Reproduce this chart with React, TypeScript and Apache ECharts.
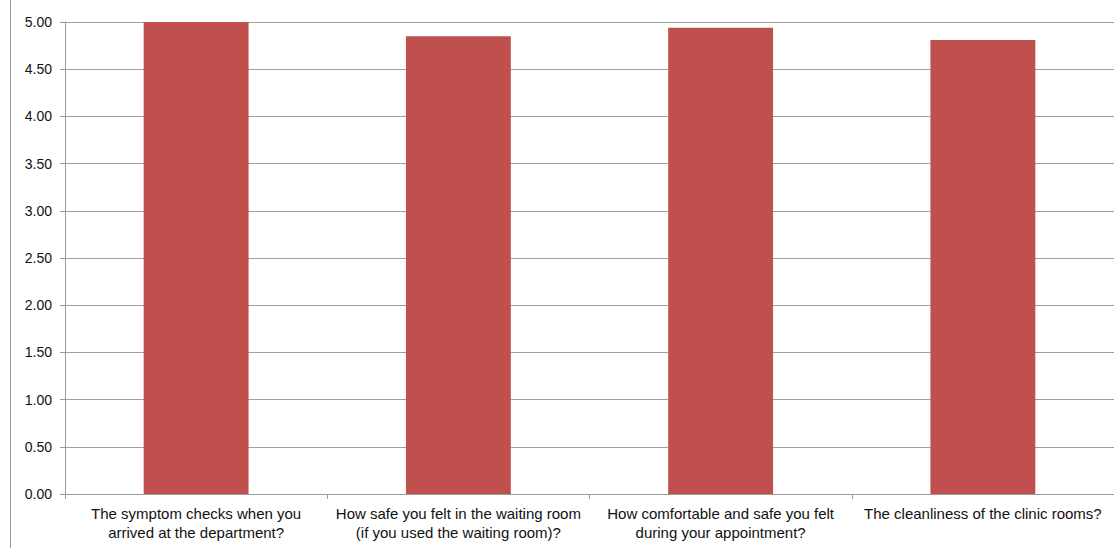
import React, { useEffect, useRef } from "react";
import * as echarts from "echarts";

const categories = [
  "The symptom checks when you\narrived at the department?",
  "How safe you felt in the waiting room\n(if you used the waiting room)?",
  "How comfortable and safe you felt\nduring your appointment?",
  "The cleanliness of the clinic rooms?",
];
const scores = [5.0, 4.85, 4.94, 4.81];
const yTicks = { min: 0, max: 5, interval: 0.5 };

export default function App() {
  const ref = useRef<HTMLDivElement>(null);
  useEffect(() => {
    document.body.style.margin = "0";
    const chart = echarts.init(ref.current!, null, { renderer: "svg" });
    chart.setOption({
      animation: false,
      backgroundColor: "#ffffff",
      textStyle: { fontFamily: "'Liberation Sans', Arial, sans-serif" },
      graphic: [
        {
          type: "line",
          shape: { x1: 10.5, y1: 0, x2: 10.5, y2: 548 },
          style: { stroke: "#9a9a9a", lineWidth: 1 },
        },
      ],
      grid: { left: 65, top: 22, width: 1052, height: 472, containLabel: false },
      xAxis: {
        type: "category",
        data: categories,
        axisLine: { show: true, lineStyle: { color: "#9a9a9a", width: 1 } },
        axisTick: { show: true, length: 5, alignWithLabel: false, lineStyle: { color: "#9a9a9a" } },
        axisLabel: {
          interval: 0,
          color: "#111111",
          fontSize: 15,
          lineHeight: 19,
          margin: 10,
          fontFamily: "'Liberation Sans', Arial, sans-serif",
        },
      },
      yAxis: {
        type: "value",
        min: yTicks.min,
        max: yTicks.max,
        interval: yTicks.interval,
        axisLine: { show: true, lineStyle: { color: "#9a9a9a", width: 1 } },
        axisTick: { show: true, length: 5, lineStyle: { color: "#9a9a9a" } },
        splitLine: { show: true, lineStyle: { color: "#a0a0a0", width: 1 } },
        axisLabel: {
          color: "#111111",
          fontSize: 14,
          margin: 13,
          formatter: (v: number) => v.toFixed(2),
          fontFamily: "'Liberation Sans', Arial, sans-serif",
        },
      },
      series: [
        {
          type: "bar",
          data: scores,
          barWidth: "40%",
          itemStyle: { color: "#C0504D" },
        },
      ],
    });
    return () => chart.dispose();
  }, []);
  return (
    <div
      ref={ref}
      style={{ position: "absolute", left: 0, top: 0, width: 1114, height: 548 }}
    />
  );
}
